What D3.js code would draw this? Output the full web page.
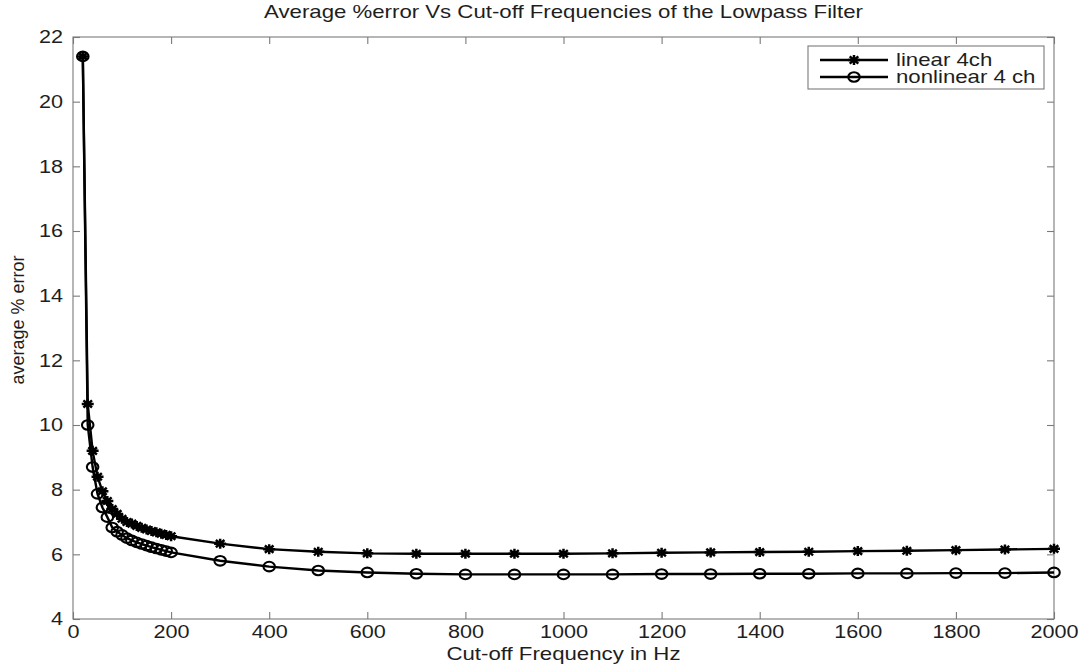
<!DOCTYPE html>
<html>
<head>
<meta charset="utf-8">
<script src="https://cdn.jsdelivr.net/npm/d3@7/dist/d3.min.js"></script>
<style>
  body { margin: 0; background: #fff; }
  svg { display: block; }
  text { font-family: "Liberation Sans", Arial, sans-serif; fill: #1e1e1e; }
</style>
</head>
<body>
<script>
// values
var freq = [20, 30, 40, 50, 60, 70, 80, 90, 100, 110, 120, 130, 140, 150, 160, 170, 180, 190, 200,
            300, 400, 500, 600, 700, 800, 900, 1000, 1100, 1200, 1300, 1400, 1500, 1600, 1700, 1800, 1900, 2000];
var linear4ch = [21.4, 10.65, 9.2, 8.4, 7.95, 7.65, 7.4, 7.25, 7.1, 7.0, 6.95, 6.88, 6.82, 6.77, 6.72, 6.68, 6.64, 6.6, 6.56,
                 6.33, 6.16, 6.08, 6.03, 6.02, 6.02, 6.02, 6.02, 6.03, 6.05, 6.06, 6.07, 6.08, 6.1, 6.11, 6.13, 6.15, 6.17];
var nonlinear4ch = [21.4, 10.0, 8.7, 7.87, 7.45, 7.15, 6.83, 6.7, 6.6, 6.5, 6.43, 6.37, 6.32, 6.27, 6.22, 6.18, 6.14, 6.1, 6.06,
                    5.8, 5.62, 5.5, 5.44, 5.4, 5.38, 5.38, 5.38, 5.38, 5.39, 5.39, 5.4, 5.4, 5.41, 5.41, 5.42, 5.42, 5.44];
var seriesNames = ["linear 4ch", "nonlinear 4 ch"];
var xTicks = [0, 200, 400, 600, 800, 1000, 1200, 1400, 1600, 1800, 2000];
var yTicks = [4, 6, 8, 10, 12, 14, 16, 18, 20, 22];

var outerWidth = 1080, outerHeight = 665;
var margin = { left: 73, top: 37, right: 26, bottom: 46 };
var innerWidth = outerWidth - margin.left - margin.right;
var innerHeight = outerHeight - margin.top - margin.bottom;
var stretch = 1.2; // the reference text and markers are widened

var svg = d3.select("body").append("svg")
  .attr("width", outerWidth)
  .attr("height", outerHeight);

var g = svg.append("g")
  .attr("transform", "translate(" + margin.left + "," + margin.top + ")");

var xScale = d3.scaleLinear().domain([0, 2000]).range([0, innerWidth]);
var yScale = d3.scaleLinear().domain([4, 22]).range([innerHeight, 0]);

var axisColor = "#7a7a7a";
var tickLen = 7;
var fmt = d3.format("d");

// widen text like the reference does
function widen(sel) {
  sel.each(function () {
    var w = this.getComputedTextLength();
    d3.select(this).attr("textLength", w * stretch).attr("lengthAdjust", "spacingAndGlyphs");
  });
}

function styleAxis(sel, showLabels) {
  sel.select(".domain").remove();
  sel.selectAll("line").attr("stroke", axisColor).attr("stroke-width", 1.1);
  sel.selectAll("text").attr("font-size", 18).attr("fill", "#1e1e1e");
  if (!showLabels) sel.selectAll("text").remove();
  else sel.selectAll("text").call(widen);
}

// bottom / top / left / right ticks, pointing inward
g.append("g").attr("transform", "translate(0," + innerHeight + ")")
  .call(d3.axisBottom(xScale).tickValues(xTicks).tickFormat(fmt).tickSizeInner(-tickLen).tickSizeOuter(0).tickPadding(6))
  .call(styleAxis, true);
g.append("g")
  .call(d3.axisTop(xScale).tickValues(xTicks).tickSizeInner(-tickLen).tickSizeOuter(0))
  .call(styleAxis, false);
g.append("g")
  .call(d3.axisLeft(yScale).tickValues(yTicks).tickFormat(fmt).tickSizeInner(-tickLen).tickSizeOuter(0).tickPadding(10))
  .call(styleAxis, true);
g.append("g").attr("transform", "translate(" + innerWidth + ",0)")
  .call(d3.axisRight(yScale).tickValues(yTicks).tickSizeInner(-tickLen).tickSizeOuter(0))
  .call(styleAxis, false);

// axes box
g.append("rect")
  .attr("width", innerWidth).attr("height", innerHeight)
  .attr("fill", "none").attr("stroke", axisColor).attr("stroke-width", 1.1);

// series
var line = d3.line()
  .x(function (d) { return xScale(d[0]); })
  .y(function (d) { return yScale(d[1]); });

var linData = freq.map(function (f, i) { return [f, linear4ch[i]]; });
var nonData = freq.map(function (f, i) { return [f, nonlinear4ch[i]]; });

[linData, nonData].forEach(function (data) {
  g.append("path").datum(data)
    .attr("d", line)
    .attr("fill", "none")
    .attr("stroke", "#000")
    .attr("stroke-width", 2.4);
});

var sx = 5 * stretch, sy = 5, dx = sx * 0.72, dy = sy * 0.72;
var starPath = "M" + (-sx) + ",0H" + sx + "M0," + (-sy) + "V" + sy +
  "M" + (-dx) + "," + (-dy) + "L" + dx + "," + dy + "M" + (-dx) + "," + dy + "L" + dx + "," + (-dy);

function drawStar(sel) {
  sel.append("path").attr("d", starPath).attr("fill", "none").attr("stroke", "#000").attr("stroke-width", 2.5);
}
function drawCircle(sel) {
  sel.append("ellipse").attr("rx", 4.8 * stretch).attr("ry", 4.8)
    .attr("fill", "none").attr("stroke", "#000").attr("stroke-width", 2.1);
}

g.selectAll(".star").data(linData).enter().append("g")
  .attr("class", "star")
  .attr("transform", function (d) { return "translate(" + xScale(d[0]) + "," + yScale(d[1]) + ")"; })
  .call(drawStar);

g.selectAll(".ring").data(nonData).enter().append("g")
  .attr("class", "ring")
  .attr("transform", function (d) { return "translate(" + xScale(d[0]) + "," + yScale(d[1]) + ")"; })
  .call(drawCircle);

// legend
var legend = svg.append("g").attr("transform", "translate(808,46)");
legend.append("rect")
  .attr("width", 236).attr("height", 43)
  .attr("fill", "#fff").attr("stroke", axisColor).attr("stroke-width", 1.1);

var rows = legend.selectAll(".row").data(seriesNames).enter().append("g")
  .attr("class", "row")
  .attr("transform", function (d, i) { return "translate(0," + (14 + i * 17) + ")"; });
rows.append("line")
  .attr("x1", 12).attr("x2", 80)
  .attr("stroke", "#000").attr("stroke-width", 2.4);
rows.append("g").attr("transform", "translate(46,0)")
  .each(function (d, i) { d3.select(this).call(i === 0 ? drawStar : drawCircle); });
rows.append("text")
  .attr("x", 88).attr("dy", "0.35em")
  .attr("font-size", 18.5)
  .text(function (d) { return d; })
  .call(widen);

// titles
svg.append("text")
  .attr("x", margin.left + innerWidth / 2).attr("y", 18)
  .attr("text-anchor", "middle").attr("font-size", 18.5)
  .text("Average %error Vs Cut-off Frequencies of the Lowpass Filter")
  .call(widen);

svg.append("text")
  .attr("x", margin.left + innerWidth / 2).attr("y", 660)
  .attr("text-anchor", "middle").attr("font-size", 18.5)
  .text("Cut-off Frequency in Hz")
  .call(widen);

svg.append("text")
  .attr("transform", "translate(24," + (margin.top + innerHeight / 2 - 8) + ") rotate(-90)")
  .attr("text-anchor", "middle").attr("font-size", 18)
  .text("average % error");
</script>
</body>
</html>
